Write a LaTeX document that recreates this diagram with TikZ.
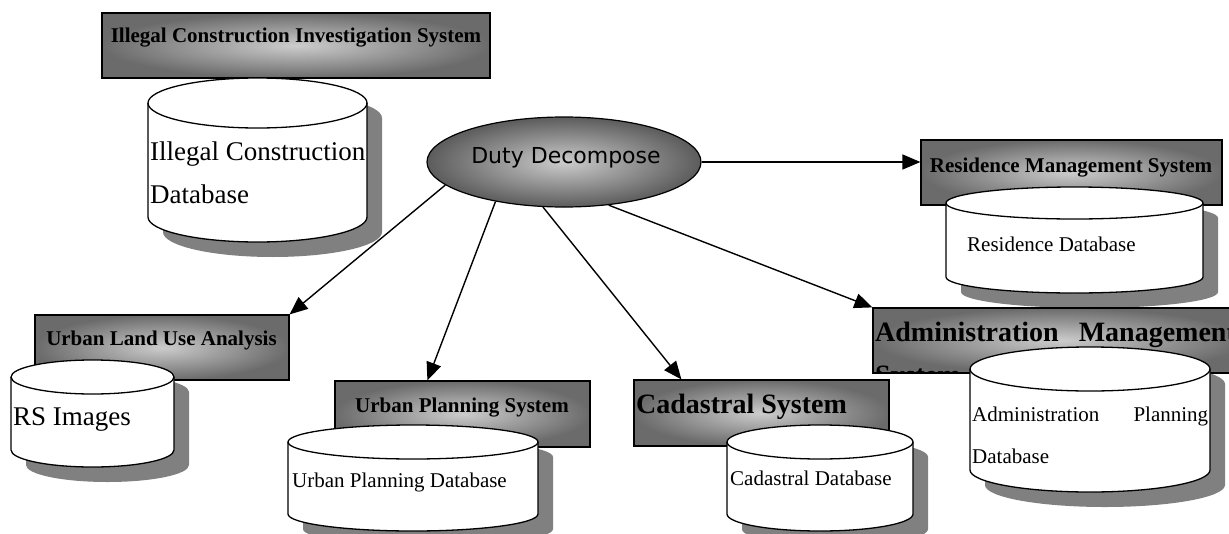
\documentclass[tikz,border=0pt]{standalone}
\usepackage{fontspec}
\setmainfont{Liberation Serif}
\newfontfamily\dutyfont{DejaVu Sans}
\usetikzlibrary{arrows.meta,shapes.geometric,calc}
\definecolor{boxdark}{gray}{0.42}
\definecolor{boxlight}{gray}{0.80}
\definecolor{elldark}{gray}{0.36}
\definecolor{dbshadow}{gray}{0.5}
\tikzset{
  sysbox/.style={rectangle, draw=black, line width=1.2pt, shade, shading=radial,
    inner color=boxlight, outer color=boxdark, inner sep=0pt},
  dutyell/.style={ellipse, draw=black, line width=1.2pt, shade, shading=radial,
    inner color=boxlight, outer color=elldark, inner sep=0pt},
  ttl/.style={inner sep=0pt, font=\fontsize{21}{25}\selectfont\bfseries},
  bigttl/.style={inner sep=0pt, font=\fontsize{28}{32}\selectfont\bfseries},
  dbtxt/.style={inner sep=0pt, anchor=base west, font=\fontsize{21}{25}\selectfont},
  bigdbtxt/.style={inner sep=0pt, anchor=base west, font=\fontsize{27}{31}\selectfont},
  dbline/.style={draw=black, fill=white, line width=1.3pt},
  arr/.style={line width=1.4pt, -{Triangle[length=18pt,width=15pt]}}
}
% x1, x2, ytop, ybot, ry  (image coordinates, y downwards)
\newcommand\dbcyl[5]{%
  \pgfmathsetmacro\dbrx{(#2-#1)/2}%
  \pgfmathsetmacro\dbya{#3+#5}%
  \pgfmathsetmacro\dbyb{#4-#5}%
  \begin{scope}[shift={(15,15)}]
    \fill[dbshadow] (#1,\dbya) -- (#1,\dbyb)
      arc[start angle=180,end angle=0,x radius=\dbrx,y radius=#5]
      -- (#2,\dbya) arc[start angle=0,end angle=-180,x radius=\dbrx,y radius=#5] -- cycle;
  \end{scope}
  \path[dbline] (#1,\dbya) -- (#1,\dbyb)
    arc[start angle=180,end angle=0,x radius=\dbrx,y radius=#5]
    -- (#2,\dbya) arc[start angle=0,end angle=-180,x radius=\dbrx,y radius=#5] -- cycle;
  \draw[line width=1.3pt] (#1,\dbya) arc[start angle=180,end angle=0,x radius=\dbrx,y radius=#5];
}
\begin{document}
\begin{tikzpicture}[x=1pt,y=-1pt]
\useasboundingbox (0,0) rectangle (1229,533);
\clip (0,0) rectangle (1229,533);
\fill[white] (0,0) rectangle (1229,533);

% Illegal construction
\node[sysbox, minimum width=388pt, minimum height=65pt] (icis) at (296,45.5) {};
\node[ttl, anchor=base] (icist) at (296,42) {Illegal Construction Investigation System};
\dbcyl{148}{367}{78}{242}{25}
\node[bigdbtxt] (icd1) at (150,160) {Illegal Construction};
\node[bigdbtxt] (icd2) at (150,203) {Database};

% Residence
\node[sysbox, minimum width=301pt, minimum height=65pt] (res) at (1071.5,172.5) {};
\node[ttl, anchor=base] (rest) at (1071,172) {Residence Management System};
\dbcyl{946}{1203}{187}{293}{16}
\node[dbtxt] (resd) at (967,251) {Residence Database};

% Administration
\node[sysbox, minimum width=372pt, minimum height=65pt] (adm) at (1059,340.5) {};
\begin{scope}
  \clip (873,308) rectangle (1245,373);
  \node[bigttl, anchor=base west] (admt1) at (875,341) {Administration\hspace{20pt}Management};
  \node[bigttl, anchor=base west] (admt2) at (875,384) {System};
\end{scope}
\dbcyl{970}{1210}{347}{492}{22}
\node[dbtxt] (admd1) at (972,421) {\makebox[236pt][l]{Administration\hfill Planning}};
\node[dbtxt] (admd2) at (972,463) {Database};

% Urban land use
\node[sysbox, minimum width=254pt, minimum height=65pt] (ulua) at (162,347.5) {};
\node[ttl, anchor=base] (uluat) at (161.5,345) {Urban Land Use Analysis};
\dbcyl{11}{174}{360}{467}{17}
\node[bigdbtxt] (rsd) at (13,425) {RS Images};

% Urban planning
\node[sysbox, minimum width=255pt, minimum height=66pt] (ups) at (462.5,414) {};
\node[ttl, anchor=base] (upst) at (462,412) {Urban Planning System};
\dbcyl{288}{538}{425}{531}{17}
\node[dbtxt] (upd) at (292,487) {Urban Planning Database};

% Cadastral
\node[sysbox, minimum width=255pt, minimum height=66pt] (cad) at (761.5,413) {};
\node[bigttl, anchor=base west] (cadt) at (636,413) {Cadastral System};
\dbcyl{727}{913}{425}{531}{17}
\node[dbtxt] (cdd) at (730,485) {Cadastral Database};

% Duty decompose
\node[dutyell, minimum width=274pt, minimum height=90pt] (duty) at (564,162) {};
\node[inner sep=0pt, anchor=base, font=\dutyfont\fontsize{22}{26}\selectfont] (dutyt) at (566,163) {Duty Decompose};

% arrows
\draw[arr] (duty.east) -- ($(res.west)+(0,-10.5)$);
\draw[arr] (duty.191) -- (ulua.north east);
\draw[arr] (duty.210) -- ($(ups.north west)+(93,0)$);
\draw[arr] (duty.245) -- ($(cad.north west)+(48,0)$);
\draw[arr] (duty.316) -- (adm.north west);
\end{tikzpicture}
\end{document}
